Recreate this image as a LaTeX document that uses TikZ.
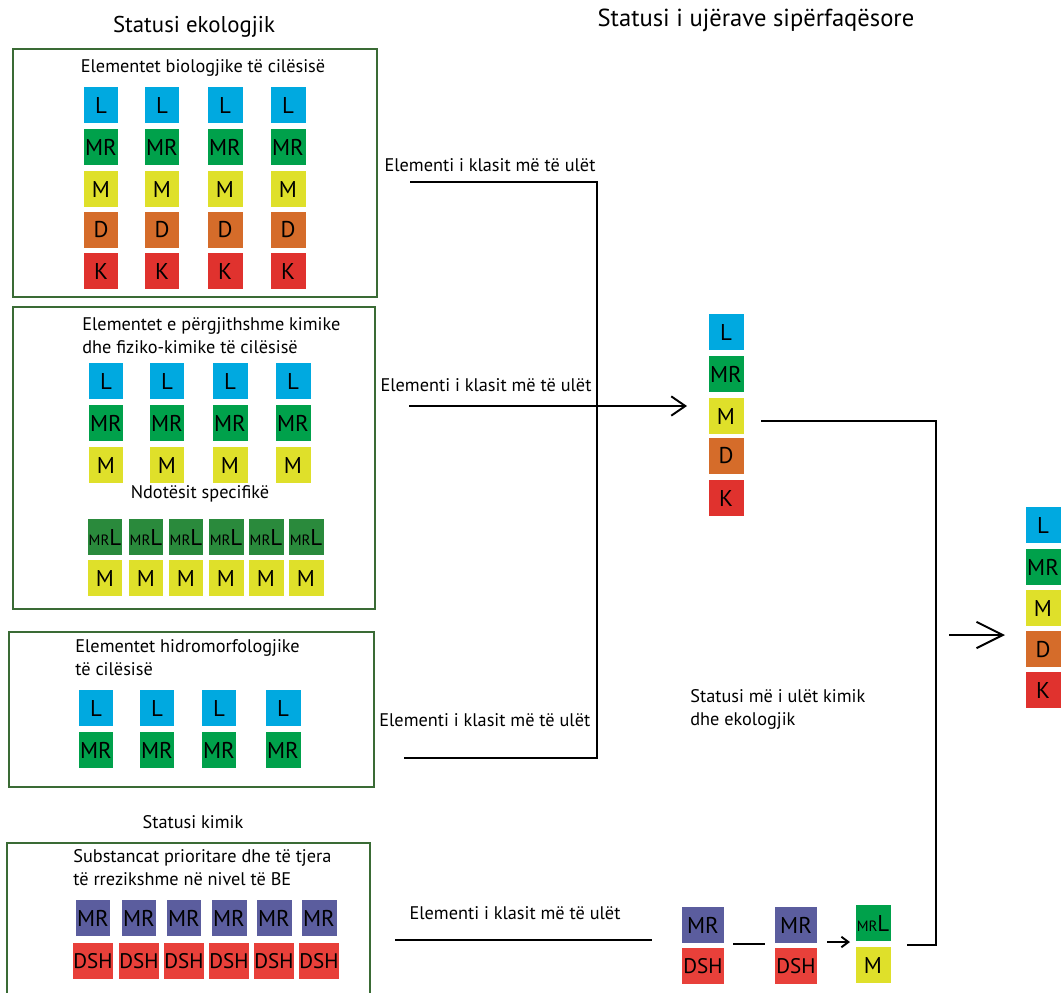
\documentclass[tikz,border=0pt]{standalone}
\usepackage{fontspec}
\setmainfont{PT Sans}
\usetikzlibrary{arrows.meta}

\definecolor{cL}{RGB}{0,169,224}
\definecolor{cMR}{RGB}{0,161,75}
\definecolor{cM}{RGB}{223,224,42}
\definecolor{cD}{RGB}{213,108,42}
\definecolor{cK}{RGB}{224,50,46}
\definecolor{cMRL}{RGB}{42,138,60}
\definecolor{cP}{RGB}{91,93,158}
\definecolor{cDSH}{RGB}{232,64,58}
\definecolor{frame}{RGB}{58,107,53}

\begin{document}
\begin{tikzpicture}[x=0.02cm,y=-0.02cm,
    sq/.style={minimum width=0.7cm,minimum height=0.72cm,inner sep=0pt,font=\fontsize{13}{13}\selectfont},
    dsh/.style={sq,fill=cDSH,font=\fontsize{12}{12}\selectfont},
    panel/.style={draw=frame,line width=1.2pt},
    lbl/.style={font=\fontsize{10.4}{13}\selectfont,align=left,inner sep=0pt},
    ttl/.style={font=\fontsize{13}{15}\selectfont,inner sep=0pt},
    wire/.style={line width=1.1pt}]

\useasboundingbox (0,0) rectangle (1061,992);
\clip (0,0) rectangle (1061,992);

\node[ttl] (t1) at (194,27) {Statusi ekologjik};
\node[ttl,font=\fontsize{14}{16}\selectfont] (t2) at (756,20) {Statusi i ujërave sipërfaqësore};
\node[lbl] (t3) at (193,822) {Statusi kimik};

\draw[panel] (13,49) rectangle (377,297);
\draw[panel] (13,307) rectangle (375,609);
\draw[panel] (9,632) rectangle (374,787);
\draw[panel] (7,843) rectangle (370,1010);

\node[lbl] (h1) at (203,68) {Elementet biologjike të cilësisë};
\node[lbl,anchor=base west] (h2) at (82,353) {Elementet e përgjithshme kimike\\dhe fiziko-kimike të cilësisë};
\node[lbl] (h3) at (200,494) {Ndotësit specifikë};
\node[lbl,anchor=base west] (h4) at (75,675) {Elementet hidromorfologjike\\të cilësisë};
\node[lbl,anchor=base west] (h5) at (73,885) {Substancat prioritare dhe të tjera\\të rrezikshme në nivel të BE};
\node[lbl,anchor=base west] (h6) at (690,725) {Statusi më i ulët kimik\\dhe ekologjik};

\foreach \x [count=\i] in {101,162,225,288}
    \foreach \t/\y in {L/105,MR/147,M/189,D/230,K/271}
        \node[sq,fill=c\t] (b\i-\t) at (\x,\y) {\t};

\foreach \x [count=\i] in {106,167,230,293}
    \foreach \t/\y in {L/381,MR/423,M/465}
        \node[sq,fill=c\t] (f\i-\t) at (\x,\y) {\t};

\foreach \x [count=\i] in {105,146,186,226,266,306} {
    \node[sq,fill=cMRL] (s\i-MRL) at (\x,537) {{\fontsize{8.5}{8.5}\selectfont MR}L};
    \node[sq,fill=cM] (s\i-M) at (\x,578) {M};
}

\foreach \x [count=\i] in {96,157,219,283}
    \foreach \t/\y in {L/708,MR/750}
        \node[sq,fill=c\t] (h\i-\t) at (\x,\y) {\t};

\foreach \x [count=\i] in {93,139,184,229,274,319} {
    \node[sq,fill=cP] (k\i-MR) at (\x,918) {MR};
    \node[dsh] (k\i-DSH) at (\x,961) {DSH};
}

\foreach \t/\y in {L/332,MR/374,M/416,D/456,K/498}
    \node[sq,fill=c\t] (m-\t) at (726,\y) {\t};

\foreach \t/\y in {L/525,MR/567,M/608,D/649,K/690}
    \node[sq,fill=c\t] (r-\t) at (1043,\y) {\t};

\node[sq,minimum width=0.84cm,fill=cP] (c1-MR) at (703,925) {MR};
\node[dsh,minimum width=0.84cm] (c1-DSH) at (703,966) {DSH};
\node[sq,minimum width=0.84cm,fill=cP] (c2-MR) at (796,925) {MR};
\node[dsh,minimum width=0.84cm] (c2-DSH) at (796,966) {DSH};
\node[sq,fill=cMR] (c3-MRL) at (873,923) {{\fontsize{8.5}{8.5}\selectfont MR}L};
\node[sq,fill=cM] (c3-M) at (873,965) {M};

\node[lbl] (e1) at (490,165) {Elementi i klasit më të ulët};
\node[lbl] (e2) at (486,385) {Elementi i klasit më të ulët};
\node[lbl,anchor=west] (e3) at (379,720) {Elementi i klasit më të ulët};
\node[lbl] (e4) at (515,913) {Elementi i klasit më të ulët};

\coordinate (a1) at (410,182);
\coordinate (a2) at (597,182);
\coordinate (a3) at (597,758);
\coordinate (a4) at (404,758);
\coordinate (a5) at (409,406);
\coordinate (a6) at (687,406);
\coordinate (a7) at (761,421);
\coordinate (a8) at (936,421);
\coordinate (a9) at (936,945);
\coordinate (a10) at (907,945);
\coordinate (a11) at (949,635);
\coordinate (a12) at (1005,635);
\coordinate (a13) at (395,940);
\coordinate (a14) at (652,940);
\coordinate (a15) at (733,944);
\coordinate (a16) at (765,944);
\coordinate (a17) at (827,942);
\coordinate (a18) at (850,942);

\draw[wire] (a1) -- (a2) -- (a3) -- (a4);
\draw[wire,-{Straight Barb[length=8pt,width=11pt]}] (a5) -- (a6);
\draw[wire] (a7) -- (a8) -- (a9) -- (a10);
\draw[wire,-{Straight Barb[length=15pt,width=15pt]}] (a11) -- (a12);
\draw[wire] (a13) -- (a14);
\draw[wire] (a15) -- (a16);
\draw[wire,-{Straight Barb[length=4pt,width=6pt]}] (a17) -- (a18);

\end{tikzpicture}
\end{document}
